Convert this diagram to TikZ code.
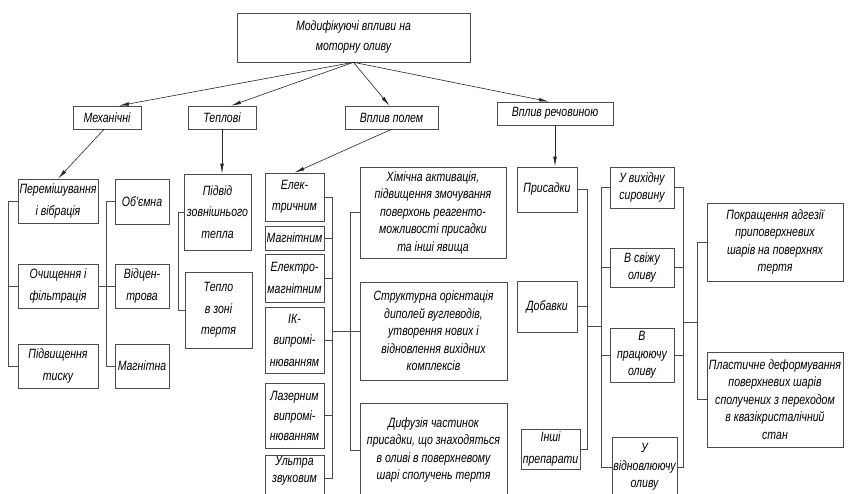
\documentclass[tikz,border=0pt]{standalone}
\usepackage{fontspec}
\newfontfamily\cadfont[FakeStretch=0.78]{Liberation Sans}
\usepackage{tikz}
\usetikzlibrary{calc}
\usetikzlibrary{arrows.meta}
\usetikzlibrary{positioning}

\tikzset{
  blk/.style={draw=black!70, line width=0.6pt, align=center, inner sep=0.5pt,
    font=\cadfont\itshape\fontsize{13.5}{17.5}\selectfont},
  tall/.style={font=\cadfont\itshape\fontsize{13.5}{21.5}\selectfont},
  link/.style={draw=black!70, line width=0.6pt},
  arr/.style={draw=black!85, line width=0.6pt, -{Latex[length=10pt,width=3.6pt]}}
}

\begin{document}
\begin{tikzpicture}[x=1pt, y=-1pt] % one unit = one pixel of the scheme
        \useasboundingbox (0,0) rectangle (848,493);
        \clip (0,0) rectangle (848,493);

        % top and the four groups
        \node[blk, minimum width=233, minimum height=49, font=\cadfont\itshape\fontsize{13.5}{20}\selectfont] (top) at (353.5,37.5) {Модифікуючі впливи на\\моторну оливу};
        \node[blk, minimum width=68, minimum height=23] (mech) at (107,117.5) {Механічні};
        \node[blk, minimum width=68, minimum height=23] (tepl) at (222,117.5) {Теплові};
        \node[blk, minimum width=93, minimum height=23] (pole) at (391.5,117.5) {Вплив полем};
        \node[blk, minimum width=116, minimum height=23] (rech) at (555,113.5) {Вплив речовиною};

        % mechanical
        \node[blk, tall, minimum width=80, minimum height=44] (perem) at (58,201) {Перемішування\\і вібрація};
        \node[blk, tall, minimum width=80, minimum height=44] (ochysh) at (58,286) {Очищення і\\фільтрація};
        \node[blk, tall, minimum width=80, minimum height=44] (tysk) at (58,366) {Підвищення\\тиску};
        \node[blk, tall, minimum width=54, minimum height=45] (obem) at (142,201.5) {Об'ємна};
        \node[blk, tall, minimum width=54, minimum height=44] (vidcen) at (142,286) {Відцен-\\трова};
        \node[blk, tall, minimum width=54, minimum height=44] (magn) at (142,366) {Магнітна};

        % thermal
        \node[blk, tall, minimum width=67, minimum height=76] (pidvid) at (217.5,212) {Підвід\\зовнішнього\\тепла};
        \node[blk, tall, minimum width=67, minimum height=76] (teplo) at (218.5,310) {Тепло\\в зоні\\тертя};

        % field
        \node[blk, tall, minimum width=59, minimum height=48] (el) at (294.5,197) {Елек-\\тричним};
        \node[blk, tall, minimum width=59, minimum height=24] (mag) at (294.5,238) {Магнітним};
        \node[blk, tall, minimum width=59, minimum height=48] (elmag) at (294.5,278) {Електро-\\магнітним};
        \node[blk, tall, minimum width=59, minimum height=66] (ik) at (294.5,340) {ІК-\\випромі-\\нюванням};
        \node[blk, minimum width=59, minimum height=65, font=\cadfont\itshape\fontsize{13.5}{20}\selectfont] (laz) at (294.5,415.5) {Лазерним\\випромі-\\нюванням};
        \node[blk, minimum width=59, minimum height=46] (ult) at (294.5,478) {Ультра\\звуковим\\\mbox{}};
        \node[blk, minimum width=146, minimum height=91] (khim) at (433,212.5) {Хімічна активація,\\підвищення змочування\\поверхонь реагенто-\\можливості присадки\\та інші явища};
        \node[blk, minimum width=147, minimum height=98] (strukt) at (433.5,331) {Структурна орієнтація\\диполей вуглеводів,\\утворення нових і\\відновлення вихідних\\комплексів};
        \node[blk, minimum width=147, minimum height=94] (dyf) at (433.5,450) {Дифузія частинок\\присадки, що знаходяться\\в оливі в поверхневому\\шарі сполучень тертя};

        % substance
        \node[blk, minimum width=60, minimum height=45] (prys) at (547,189.5) {Присадки};
        \node[blk, minimum width=60, minimum height=51] (dob) at (547,306.5) {Добавки};
        \node[blk, tall, minimum width=59, minimum height=40] (inshi) at (550.5,449) {Інші\\препарати};
        \node[blk, minimum width=64, minimum height=41] (syr) at (642,187.5) {У вихідну\\сировину};
        \node[blk, minimum width=64, minimum height=39] (svizh) at (642,267.5) {В свіжу\\оливу};
        \node[blk, minimum width=64, minimum height=54] (prac) at (642,355) {В\\працюючу\\оливу};
        \node[blk, minimum width=65, minimum height=60] (vidn) at (644.5,467) {У\\відновлюючу\\оливу};
        \node[blk, minimum width=136, minimum height=78] (pokr) at (775,242) {Покращення адгезії\\приповерхневих\\шарів на поверхнях\\тертя};
        \node[blk, minimum width=136, minimum height=95] (plast) at (775,399.5) {Пластичне деформування\\поверхневих шарів\\сполучених з переходом\\в квазікристалічний\\стан};

        % arrows
        \draw[arr] (top.south) -- ([xshift=12]mech.north);
        \draw[arr] (top.south) -- ([xshift=9]tepl.north);
        \draw[arr] (top.south) -- ([xshift=-2]pole.north);
        \draw[arr] (top.south) -- ([xshift=-6]rech.north);
        \draw[arr] ([xshift=-3]mech.south) -- (perem.north);
        \draw[arr] (tepl.south) -- (tepl.south |- pidvid.north);
        \draw[arr] (pole.south) -- (el.north);
        \draw[arr] (rech.south) -- (rech.south |- prys.north);

        % brackets
        \draw[link] (perem.west) -- ++(-9,0) |- (tysk.west);
        \draw[link] (ochysh.west) -- ++(-9,0);
        \draw[link] (obem.west) -- ++(-8,0) |- (magn.west);
        \draw[link] (ochysh.east) -- (vidcen.west);
        \draw[link] (pidvid.west) -- ++(-5,0) |- (teplo.west);

        \draw[link] (el.east) -- ++(8,0) coordinate (fb) |- (ult.east);
        \foreach \n in {mag,elmag,ik,laz} \draw[link] (\n.east) -- (\n.east -| fb);
        \draw[link] (khim.west) -- ++(-9,0) coordinate (fc) |- (dyf.west);
        \draw[link] (strukt.west) -- (strukt.west -| fb);

        \draw[link] (prys.east) -- ++(10,0) coordinate (sb) |- (inshi.east);
        \draw[link] (dob.east) -- (dob.east -| sb);
        \draw[link] (syr.west) -- ++(-8,0) coordinate (sc) |- (vidn.west);
        \foreach \n in {svizh,prac} \draw[link] (\n.west) -- (\n.west -| sc);
        \draw[link] (sb |- 0,326) -- (sc |- 0,326);
        \draw[link] (syr.east) -- ++(9,0) coordinate (sd) |- (vidn.east);
        \foreach \n in {svizh,prac} \draw[link] (\n.east) -- (\n.east -| sd);
        \draw[link] (pokr.west) -- ++(-9,0) coordinate (se) |- (plast.west);
        \draw[link] (sd |- 0,322) -- (se |- 0,322);
\end{tikzpicture}
\end{document}
